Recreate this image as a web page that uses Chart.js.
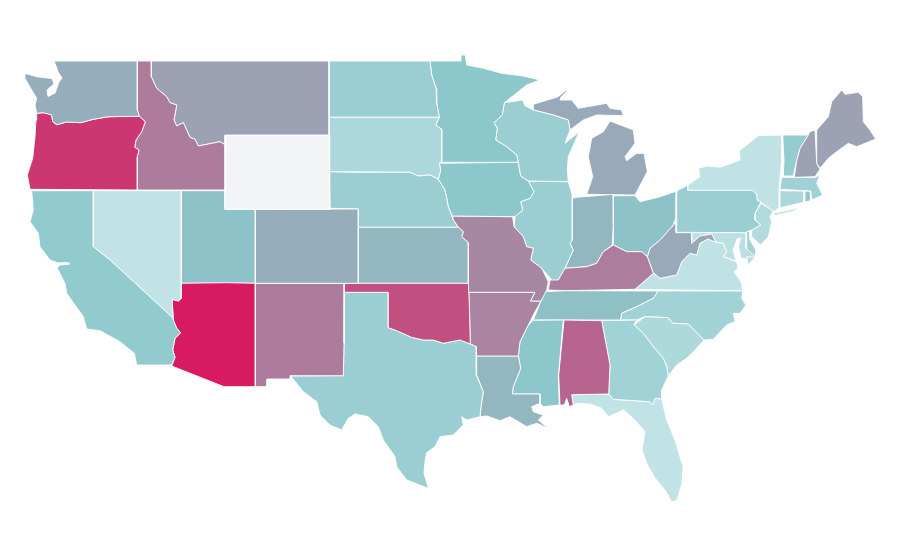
<!DOCTYPE html>
<html>
<head>
<meta charset="utf-8">
<title>US map</title>
<script src="https://cdn.jsdelivr.net/npm/chart.js@4/dist/chart.umd.min.js"></script>
<style>
  html, body { margin: 0; padding: 0; background: #fff; }
  #map { display: block; }
</style>
</head>
<body>
<canvas id="map" width="900" height="560"></canvas>
<script>
// state outlines, flat x,y lists on the map's own 900x560 grid
const WA = [54,61,137.3,61,137.3,110,139.3,116.3,108.7,116.7,93.3,119.3,80.7,122.7,66.7,122,56.7,124.7,52.7,121.7,51.7,115,43.3,112.7,36.7,113.3,35,105,36.7,98.3,30.7,88.3,25,78.3,25,73.3,36.7,76.7,43.3,77.5,52,78.5,54,84,47,90,48,96.5,55,93,59,82,62,78,58,72,56,66];
const OR = [36.7,113.3,43.3,112.7,51.7,114.3,52.7,121.7,56.7,124.7,66.7,122,80.7,122.7,93.3,119.3,108.7,116.7,139.3,116.3,145.3,121.7,141.7,131.7,136,140,134.7,147.3,139,150,137.3,156.7,137.3,190,30,189.3,27.3,175,32.7,158.3,35,136.7,36,120];
const ID = [137.3,61,151.3,61,151.3,76.7,156.7,88.3,166.7,96.7,170,102.7,176.7,105,174,120,176.7,126,183.3,122.7,186.7,130,190,137.3,195,139.3,198.3,146,220,141.7,225,144.7,225,190,137.3,190,137.3,156.7,139,150,134.7,147.3,136,140,141.7,131.7,145.3,121.7,139.3,116.3,137.3,110];
const MT = [151.3,61,329,61,329,135,225,135,225,144.7,220,141.7,198.3,146,195,139.3,190,137.3,186.7,130,183.3,122.7,176.7,126,174,120,176.7,105,170,102.7,166.7,96.7,156.7,88.3,151.3,76.7];
const WY = [225,135,329,135,329.7,209.3,225,209.3];
const CA = [31.7,190.7,93.3,190.7,93.3,246.7,110,260,173.3,318.3,173.3,320,176.7,328.3,180.7,332.7,175,338.3,172.7,350,175,357.3,171.7,365,136.7,365,134.3,353.3,120,341.7,100,330.7,86.7,329,83.3,316.7,66.7,293.3,65,283.3,57,268,60,265,70,264,68,262.5,58,263,50,260,40,246.7,38.3,233.3,30,221.7,33.3,210];
const NV = [93.3,190.7,181.3,190.7,181.3,298.3,178.3,301,172,299.3,173.3,318.3,110,260,93.3,246.7];
const AZ = [172,299.3,178.3,301,181.3,298.3,181.3,283.3,226.7,282.7,255.3,283.3,255.3,386.7,224,386.7,171.7,366,175,357.3,172.7,350,175,338.3,180.7,332.7,176.7,328.3,173.3,320];
const UT = [181.3,190.7,225,190.7,225,209.3,255.3,209.3,255.3,283.3,181.3,283.3];
const CO = [255.3,209.3,358.3,209,358.3,283.3,255.3,283.3];
const NM = [255.3,283.3,344.3,283.3,344,343.3,343.3,375.7,290.3,375.7,290.3,379,267,379,267,386.7,255.3,386.7];
const OK = [344.3,283.3,468.3,283.3,469.3,303.3,470.3,344,460,340,443.3,343.3,433.3,340,423.3,340,411.7,337.3,396.7,330.7,388.3,327.7,388.3,292.3,344.3,292.3];
const TX = [344.3,292.3,388.3,292.3,388.3,327.7,396.7,330.7,411.7,337.3,423.3,340,433.3,340,443.3,343.3,460,340,470.3,344,476.3,346.7,476.3,375,483.3,391.7,481,406.7,480,416.7,466.7,420,461.7,416.7,463.3,425,453.3,435,440,436.7,435,446.7,426.7,452.7,425,461.7,424,473.3,428.3,488.3,406.7,480,396.7,466.7,395,456.7,383.3,440,378.3,426.7,368.3,416.7,355,414,348.3,418.3,341.7,430,330,425,320,415,316.7,401.7,303.3,391.7,290.7,376,343.3,375.7,344,343.3];
const KS = [358.3,227.3,458.3,227.3,463.3,231.7,461.7,236.7,468.3,242.7,468.3,283.3,358.3,283.3];
const NE = [329,171.7,353.3,172.3,410,172.3,418.3,176,430,175,438.3,179.3,445,190,448.3,206.7,453.3,220,458.3,227.3,358.3,227.3,358.3,209,330,208.3];
const SD = [329,117.3,439.3,117.3,435.7,125,441.7,129.3,441.7,162.3,439.3,163.3,440.7,170,438.3,179.3,430,175,418.3,176,410,172.3,329,171.7];
const ND = [329,61,430,61,431.7,75,436,88.3,436.7,103.3,439.3,117.3,329,117.3];
const MN = [430,61,461,61,461,55,465.3,55,466.7,65,483.3,68.3,501.7,73.3,523.3,76,540,80,526.7,85,504.3,102.7,502.3,115,494,122.7,497.3,128.3,495.7,140,506.7,146.7,516.7,155,518.3,162.3,441.7,162.3,441.7,129.3,435.7,125,439.3,117.3,436.7,103.3,436,88.3,431.7,75];
const WI = [504.3,102.7,522.7,100,525,105.7,533.3,110,553.3,115,568.3,120,570,130,565,143.3,579.3,131.7,568.3,156.7,567.3,170,568.3,181.7,528.3,181,520.7,176,518.3,162.3,516.7,155,506.7,146.7,495.7,140,497.3,128.3,494,122.7,502.3,115];
const IA = [439.3,163.3,518.3,162.3,520.7,176,528.3,181,534,191.7,530,198.3,520.7,201.7,522.7,210,515,216.7,452.3,216,448.3,206.7,445,190,438.3,179.3,440.7,170];
const MO = [452.3,216,512.7,216.7,514,226.7,523.3,236.7,526.7,246.7,533.3,248.3,530.7,260,541.7,268.3,548.3,281.7,546.7,290,541,301,530.7,301,535,292.3,468.7,292.3,468.3,283.3,468.3,242.7,461.7,236.7,463.3,231.7,458.3,227.3,453.3,220];
const AR = [468.7,292.3,535,292.3,530.7,301,541,301,533.3,315,528.3,325,520,341.7,518.3,356,476.7,356,476.3,346.7,470.3,344,469.3,303.3];
const LA = [476.7,356,518.3,356,520.7,368.3,513.3,386.7,512.3,394,540,394,540,403.3,531.7,406.7,533.3,411.7,543.3,415,538.3,420,548.3,428.3,536.7,423.3,526.7,426.7,510,416.7,500,420.7,486.7,416,480,416.7,481,406.7,483.3,391.7,476.7,375];
const MS = [533.3,320.3,563.3,320,558.3,376.7,559.3,405,543.3,406.7,540,403.3,540,394,512.3,394,513.3,386.7,520.7,368.3,518.3,356,520,341.7,528.3,325];
const AL = [564,320,601.7,320.7,610,365,608.7,394,571.7,394.7,573.3,405,569.3,406.7,566.7,398.3,564.3,405,560,405,558.7,375];
const GA = [601.7,320.7,636.7,320,634,325,643.3,333.3,653.3,346.7,663.3,358.3,666.7,366.7,668.3,376,661.7,390,661.7,399,655,398.3,652.7,405,650,401.7,613.3,399.3,608.7,394,610,365];
const FL = [571.7,394.7,608.7,394,613.3,399.3,650,401.7,652.7,405,655,398.3,661.7,399,666.7,420,675,440,683,466.7,682,483.3,677,500,671.7,502,665.7,491,655,478,647,464,642,450,645,431.7,635,420,623.3,410,608.3,416.7,601.7,408.3,590,404,576.7,403.3,573.3,405];
const SC = [634,325,645,316.7,668.3,317.7,672.7,323.3,688.3,324,704,340,695,350,686.7,358.3,676.7,365,668.3,376,666.7,366.7,663.3,358.3,653.3,346.7,643.3,333.3];
const NC = [620.7,320,621.7,313.3,636.7,306.7,653.3,298.3,658.3,291,742.7,291,741.7,298.3,746,305,740,313.3,733.3,313.3,735,321.7,726.7,325,713.3,339.3,704,340,688.3,324,672.7,323.3,668.3,317.7,645,316.7,636.7,320];
const TN = [533.3,320,540,303.3,545,291.7,565,290.7,658.3,291,653.3,298.3,636.7,306.7,621.7,313.3,620.7,320];
const KY = [548.3,290,550,280,558.3,280,565,268.3,586.7,266.7,596.7,263.3,603.3,251.7,613.3,245,626.7,251.7,641.7,251.7,647.3,256.7,653.3,273.3,635,289.3,565,290.7];
const IL = [528.3,181,568.3,181.7,572.3,195,572.3,240,570,243.3,573.3,250,565,268.3,558.3,280,553.3,281.7,541.7,268.3,530.7,260,533.3,248.3,526.7,246.7,523.3,236.7,514,226.7,515,216.7,522.7,210,520.7,201.7,530,198.3,534,191.7];
const IN = [572.3,198.3,576.7,197.3,613.3,194.3,613.3,223.3,612.3,245,603.3,251.7,596.7,263.3,586.7,266.7,565,268.3,573.3,250,570,243.3,572.3,240];
const OH = [613.3,195.7,635,195.7,640,201.7,660,196.7,676.7,191,676,216.7,673.3,225,660,240,650,248.3,647.3,256.7,641.7,251.7,626.7,251.7,613.3,245];
const WV = [676,222,676,232.7,691.7,232.7,691.7,243.3,700,236,711.7,234,716,242.3,708,239,700,243.3,696.7,255,690,253.3,681.7,261.7,676.7,275,660,278.3,653.3,272.7,647.3,256.7,650,248.3,660,240,673.3,225];
const VA = [635,289.3,653.3,273.3,660,278.3,676.7,275,681.7,261.7,690,253.3,696.7,255,700,243.3,708,239,716,242.3,723.3,243.3,726.7,251.7,723.3,256.7,736.7,261.7,738,268,734,272,738,277,741.7,283.3,742.7,291];
const VA_SHORE = [746.7,256.7,755,257.3,748.3,265];
const MD = [691.7,232.7,746,232.7,746,248.3,755.3,256.7,752,260,741,258,738.5,246,741,238,737,239,733,250,736,261,723.3,256.7,726.7,251.7,723.3,243.3,716,242.3,711.7,234,700,236,691.7,243.3];
const DE = [746.7,231.7,750,230.7,750,240,756,250,756,256,746.7,256,746.7,248.3];
const PA = [676.7,191,687.7,185,687.7,190.3,752.7,190.3,756.7,195,757.3,200.7,761,201.7,755,213.3,755,220,760.7,225,751.7,230,746.7,232.7,676.7,232.3];
const NY = [687.7,190.3,687.7,185,700,176.7,698.3,168.3,706.7,166,720,167.3,740,160,739.3,150.7,746.7,145,758.3,135.7,781.7,135,781.7,160,779.3,186.7,779.3,207.7,774,211.7,760,201.7,757.3,200.7,756.7,195,752.7,190.3];
const NY_LONG_ISLAND = [773.3,213.3,796.7,208.3,800,208.3,791.7,211.7,775,215.7];
const NJ = [761,203.3,773.3,210.7,770,216.7,771.7,221.7,768.3,236.7,760.7,245,751.7,236.7,751.7,230,760.7,225,755,220,755,213.3];
const VT = [782.7,135,808.3,135,800,148.3,796.7,160,793.3,176,783.3,176,784,160];
const NH = [810,131.7,815,130,816.7,163.3,820,169.3,815,176.7,794.3,177.3,796.7,160,800,148.3];
const ME = [816.7,130,828.3,116.7,831.7,101.7,841.7,90,845,94.3,858.3,92.3,862.7,96.7,863.3,121.7,870,130,875.7,139,856.7,146.7,848.3,143.3,836.7,151.7,828.3,158.3,820,168.3,816.7,163.3];
const MA = [781.7,177.3,815,177.3,820,175,816.7,183.3,822.7,195,811.7,200,810.7,191,780,189.3];
const CT = [780,190.7,804,191,804,202.3,780,207.7];
const RI = [805,191,810,191,810.7,200.7,805,202.3];
const MI_UPPER = [533.3,104.3,558.3,96.7,565,91,568,90.5,561,97,560,100,571.7,100,578.3,108.3,606.7,103.3,610,108.3,621.7,110,623.3,115.7,596.7,115,583.3,120,570,130,568.3,120,553.3,115,533.3,110];
const MI_LOWER = [610,121,633.3,130,635,143.3,625,156.7,626.7,160.7,636.7,153.3,644,153.3,647.3,171.7,635,195,586.7,194.3,592.7,176.7,588.3,156.7,591.7,138.3,603.3,131.7];

const stateNames = ["WA","OR","ID","MT","WY","CA","NV","AZ","UT","CO","NM","OK","TX","KS","NE","SD","ND","MN","WI","IA","MO","AR","LA","MS","AL","GA","FL","SC","NC","TN","KY","IL","IN","OH","WV","VA","VA","MD","DE","PA","NY","NY","NJ","VT","NH","ME","MA","CT","RI","MI","MI"];
const stateShapes = [WA,OR,ID,MT,WY,CA,NV,AZ,UT,CO,NM,OK,TX,KS,NE,SD,ND,MN,WI,IA,MO,AR,LA,MS,AL,GA,FL,SC,NC,TN,KY,IL,IN,OH,WV,VA,VA_SHORE,MD,DE,PA,NY,NY_LONG_ISLAND,NJ,VT,NH,ME,MA,CT,RI,MI_UPPER,MI_LOWER];
// estimated from the fill colours, WY has no data
const stateValues = [40,89,61,45,null,26,0,100,32,40,61,79,22,37,22,12,22,30,22,30,56,57,37,30,70,18,0,11,18,33,60,22,37,32,42,1,6,4,18,22,1,1,9,25,45,45,19,12,28,42,42];

const colorStops = [0,30,100];
const stopColors = [[194,227,229],[139,199,203],[216,27,96]];
const noDataColor = "#f3f4f6";

function valueColor(v) {
  if (v === null) return noDataColor;
  const i = v <= colorStops[1] ? 0 : 1;
  const t = (v - colorStops[i]) / (colorStops[i + 1] - colorStops[i]);
  const rgb = stopColors[i].map((c, k) => Math.round(c + (stopColors[i + 1][k] - c) * t));
  return `rgb(${rgb.join(",")})`;
}

function toPoints(flat) {
  const pts = [];
  for (let i = 0; i < flat.length; i += 2) pts.push({ x: flat[i], y: flat[i + 1] });
  pts.push({ x: flat[0], y: flat[1] }); // close the ring
  return pts;
}

new Chart(document.getElementById("map").getContext("2d"), {
  type: "scatter",
  data: {
    datasets: stateShapes.map((shape, i) => ({
      label: stateNames[i],
      data: toPoints(shape),
      showLine: true,
      fill: "shape",
      backgroundColor: valueColor(stateValues[i]),
      borderColor: "#ffffff",
      borderWidth: 0.9,
      pointRadius: 0,
      tension: 0,
    })),
  },
  options: {
    responsive: false,
    animation: false,
    layout: { padding: 0 },
    plugins: { legend: { display: false }, tooltip: { enabled: false } },
    scales: {
      x: { type: "linear", display: false, min: 0, max: 900 },
      y: { type: "linear", display: false, min: 0, max: 560, reverse: true },
    },
  },
});
</script>
</body>
</html>
